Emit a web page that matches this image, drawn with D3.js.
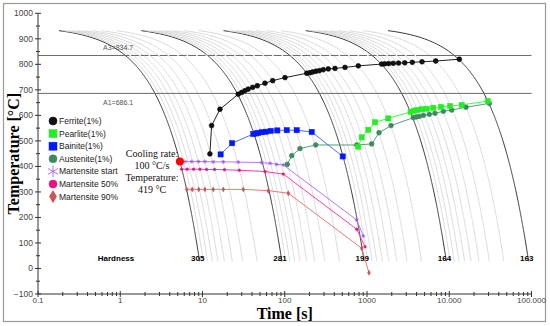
<!DOCTYPE html>
<html>
<head>
<meta charset="utf-8">
<script src="https://cdn.jsdelivr.net/npm/d3@7"></script>
<style>
  body { margin: 0; background: #fff; }
  text { font-family: Arial, "Liberation Sans", sans-serif; }
  text.serif { font-family: "Liberation Serif", "Times New Roman", serif; }
</style>
</head>
<body>
<svg width="550" height="326"></svg>
<script>
// cooling curves (°C/s), the dark ones carry the hardness label
const coolingRates = [100, 90, 80, 70, 60, 50, 40, 30, 20,
  10, 9, 8, 7, 6, 5, 4, 3, 2,
  1, 0.9, 0.8, 0.7, 0.6, 0.5, 0.4, 0.3, 0.2,
  0.1, 0.09, 0.08, 0.07, 0.06, 0.05, 0.04, 0.03, 0.02,
  0.01]
const markedRates = [100, 10, 1, 0.1, 0.01]
const hardness = ['305', '281', '199', '164', '163']
const startTemp = 950, curveTop = 932, curveBottom = 25

const A3 = 834.7, A1 = 686.1

const ferriteTime = [12.3, 12.9, 16.3, 27.2, 30.0, 32.9, 36.0, 40.8, 46.4, 57.5, 71.3, 100.7, 185, 203, 219, 240, 263, 294, 338, 408, 540, 784, 1509, 1644, 1838, 2086, 2417, 2880, 3550, 4667, 6850, 13250]
const ferriteTemp = [449, 560, 624, 683, 690, 697, 703, 710, 716, 726, 736, 748, 765, 767, 770, 773, 775, 779, 782, 784, 788, 794, 801, 802, 803, 804, 805, 806, 808, 810, 813, 820]

const pearliteTime = [783, 863, 1038, 1251, 1815, 3396, 3724, 4092, 4626, 5318, 6397, 7937, 10218, 14170, 29380]
const pearliteTemp = [477, 514, 543, 573, 588, 614, 618, 621, 624, 626, 630, 633, 637, 641, 656]

const bainiteTime = [16.6, 22.9, 41.5, 44.7, 47.6, 52.4, 59.2, 67.5, 81.2, 105.7, 139.7, 212.6, 507]
const bainiteTemp = [447, 491, 527, 529, 531, 534, 536, 539, 541, 542, 542, 535, 439]

const austeniteTime = [107.4, 121.6, 153, 238, 750, 1140, 1400, 1959, 3656, 3981, 4327, 4842, 5719, 6708, 8472, 10720, 15990, 30690]
const austeniteTemp = [408, 442, 470, 484, 484, 488, 532, 560, 591, 594, 596, 600, 604, 608, 616, 621, 632, 647]

const msTime = [5.23, 6.12, 7.39, 8.90, 10.7, 13.5, 17.9, 27.2, 52.4, 66.2, 79.8, 96.0, 750, 902]
const msTemp = [419, 419, 419, 419, 419, 418, 418, 417, 415, 412, 408, 406, 190, 127]

const m50Time = [5.58, 6.5, 7.8, 9.3, 11.2, 14, 18.5, 28, 57.5, 96, 750, 946]
const m50Temp = [389, 389, 389, 389, 388, 388, 387, 385, 380, 370, 154, 85]

const m90Time = [6.43, 7.5, 9.0, 10.7, 13.5, 17.9, 31.3, 63.1, 110.4, 863, 1057]
const m90Temp = [310, 310, 310, 310, 310, 310, 310, 305, 295, 79, -17]

const picked = { rate: 100, temp: 419 }

const xTicks = [0.1, 1, 10, 100, 1000, 10000, 100000]
const xTickLabels = ['0.1', '1', '10', '100', '1000', '10.000', '100.000']
const yTicks = d3.range(-100, 1001, 100)

const svg = d3.select('svg')

const x = d3.scaleLog().domain([0.1, 100000]).range([38, 531.5])
const y = d3.scaleLinear().domain([-100, 1000]).range([294, 13.3])

svg.append('rect')
  .attr('x', 3.5).attr('y', 3.5).attr('width', 542).attr('height', 318)
  .attr('fill', 'none').attr('stroke', '#9a9a9a').attr('stroke-width', 1.2)

// cooling curves
const curveLine = d3.line().x(d => x(d[0])).y(d => y(d[1]))
const temps = d3.range(curveTop, curveBottom - 1, -4)
const curves = svg.append('g')
coolingRates.forEach(r => {
  const dark = markedRates.includes(r)
  curves.append('path')
    .datum(temps.map(T => [(startTemp - T) / r, T]))
    .attr('d', curveLine)
    .attr('fill', 'none')
    .attr('stroke', dark ? '#3a3a3a' : '#d2d2d2')
    .attr('stroke-width', dark ? 1 : 0.8)
})

// A3 / A1
const crit = svg.append('g')
;[A3, A1].forEach(v => {
  crit.append('line')
    .attr('x1', x(0.1)).attr('x2', x(100000))
    .attr('y1', y(v)).attr('y2', y(v))
    .attr('stroke', '#6a6a6a').attr('stroke-width', 1)
})
crit.append('line')
  .attr('x1', x(1.3)).attr('x2', x(4000))
  .attr('y1', y(A3)).attr('y2', y(A3))
  .attr('stroke', '#fff').attr('stroke-width', 1.4)
  .attr('stroke-dasharray', '1.5,8')
crit.append('text').attr('x', 103).attr('y', y(A3) - 5)
  .attr('font-size', 7).attr('fill', '#555').text('A3=' + A3)
crit.append('text').attr('x', 103).attr('y', y(A1) + 12)
  .attr('font-size', 7).attr('fill', '#555').text('A1=' + A1)

// axes
const xAxis = svg.append('g').attr('transform', `translate(0,${y(-100)})`)
xAxis.append('line').attr('x1', x(0.1)).attr('x2', x(100000)).attr('stroke', '#333')
const xMinor = []
xTicks.slice(0, -1).forEach(d => d3.range(2, 10).forEach(k => xMinor.push(d * k)))
xAxis.selectAll('.xmin').data(xMinor).join('line')
  .attr('x1', d => x(d)).attr('x2', d => x(d)).attr('y1', -2).attr('y2', 2)
  .attr('stroke', '#333')
xAxis.selectAll('.xmaj').data(xTicks).join('line')
  .attr('x1', d => x(d)).attr('x2', d => x(d)).attr('y1', -3).attr('y2', 3)
  .attr('stroke', '#333')
xAxis.selectAll('.xlab').data(xTicks).join('text')
  .attr('x', d => x(d)).attr('y', 9).attr('text-anchor', 'middle')
  .attr('font-size', 8).attr('fill', '#444')
  .text((d, i) => xTickLabels[i])

const yAxis = svg.append('g').attr('transform', `translate(${x(0.1)},0)`)
yAxis.append('line').attr('y1', y(-100)).attr('y2', y(1000)).attr('stroke', '#333')
yAxis.selectAll('.ymin').data(d3.range(-50, 1000, 100)).join('line')
  .attr('y1', d => y(d)).attr('y2', d => y(d)).attr('x1', -2).attr('x2', 2)
  .attr('stroke', '#333')
yAxis.selectAll('.ymaj').data(yTicks).join('line')
  .attr('y1', d => y(d)).attr('y2', d => y(d)).attr('x1', -3).attr('x2', 3)
  .attr('stroke', '#333')
yAxis.selectAll('.ylab').data(yTicks).join('text')
  .attr('x', -5).attr('y', d => y(d) + 3).attr('text-anchor', 'end')
  .attr('font-size', 8.5).attr('fill', '#444')
  .text(d => d === -100 ? '\u2212100' : d)

svg.append('text').attr('class', 'serif')
  .attr('transform', `translate(19,${(y(-100) + y(1000)) / 2}) rotate(-90)`)
  .attr('text-anchor', 'middle')
  .attr('font-weight', 'bold').attr('font-size', 16)
  .text('Temperature [°C]')
svg.append('text').attr('class', 'serif')
  .attr('x', (x(0.1) + x(100000)) / 2).attr('y', 319)
  .attr('text-anchor', 'middle')
  .attr('font-weight', 'bold').attr('font-size', 16)
  .text('Time [s]')

// hardness labels at the end of the dark curves
svg.append('text').attr('x', 116).attr('y', y(curveBottom) - 1)
  .attr('text-anchor', 'middle').attr('font-size', 8).attr('font-weight', 'bold')
  .text('Hardness')
svg.selectAll('.hv').data(markedRates).join('text')
  .attr('x', d => x((startTemp - curveBottom) / d) - 2).attr('y', y(curveBottom) - 1)
  .attr('text-anchor', 'middle').attr('font-size', 8).attr('font-weight', 'bold')
  .text((d, i) => hardness[i])

// series
const zip = (t, T) => t.map((d, i) => [d, T[i]])
const seriesLine = d3.line().x(d => x(d[0])).y(d => y(d[1]))
const series = [
  { name: 'Martensite 90%', pts: zip(m90Time, m90Temp), line: '#e37a7a', fill: '#cc5555', shape: 'diamond', size: 1.6 },
  { name: 'Martensite 50%', pts: zip(m50Time, m50Temp), line: '#ff3fa8', fill: '#e8137f', shape: 'circle', size: 1.3 },
  { name: 'Martensite start', pts: zip(msTime, msTemp), line: '#b377ff', fill: '#9b4dff', shape: 'star', size: 1.3 },
  { name: 'Austenite(1%)', pts: zip(austeniteTime, austeniteTemp), line: '#5a9e78', fill: '#3d8a5f', shape: 'circle', size: 2.4 },
  { name: 'Bainite(1%)', pts: zip(bainiteTime, bainiteTemp), line: '#4a6cff', fill: '#0018ff', shape: 'square', size: 2.6 },
  { name: 'Pearlite(1%)', pts: zip(pearliteTime, pearliteTemp), line: '#3dff3d', fill: '#22ee22', shape: 'square', size: 2.6 },
  { name: 'Ferrite(1%)', pts: zip(ferriteTime, ferriteTemp), line: '#222', fill: '#111', shape: 'circle', size: 2.4 }
]

const drawMarker = (g, shape, cx, cy, s, fill, stroke) => {
  if (shape === 'circle') {
    g.append('circle').attr('cx', cx).attr('cy', cy).attr('r', s)
      .attr('fill', fill).attr('stroke', stroke).attr('stroke-width', 0.6)
  } else if (shape === 'square') {
    g.append('rect').attr('x', cx - s).attr('y', cy - s).attr('width', 2 * s).attr('height', 2 * s)
      .attr('fill', fill).attr('stroke', stroke).attr('stroke-width', 0.5)
  } else if (shape === 'diamond') {
    g.append('path').attr('d', d3.symbol(d3.symbolDiamond, s * s * 4)()).attr('transform', `translate(${cx},${cy})`)
      .attr('fill', fill)
  } else {
    g.append('path').attr('d', d3.symbol(d3.symbolAsterisk, s * s * 6)()).attr('transform', `translate(${cx},${cy})`)
      .attr('fill', 'none').attr('stroke', fill).attr('stroke-width', 0.8)
  }
}

series.forEach(s => {
  const g = svg.append('g')
  g.append('path').datum(s.pts).attr('d', seriesLine)
    .attr('fill', 'none').attr('stroke', s.line).attr('stroke-width', 1)
  s.pts.forEach(p => drawMarker(g, s.shape, x(p[0]), y(p[1]), s.size, s.fill, s.name === 'Ferrite(1%)' ? '#000' : s.fill))
})

// picked point
svg.append('circle')
  .attr('cx', x((startTemp - picked.temp) / picked.rate)).attr('cy', y(picked.temp))
  .attr('r', 4).attr('fill', '#ff0000')

const note = svg.append('g')
;[['Cooling rate:', 157], [picked.rate + ' °C/s', 169], ['Temperature:', 181], [picked.temp + ' °C', 193]]
  .forEach(([t, yy]) => note.append('text').attr('class', 'serif')
    .attr('x', 152).attr('y', yy).attr('font-size', 10)
    .attr('text-anchor', 'middle').attr('fill', '#111').text(t))

// legend
const legendOrder = ['Ferrite(1%)', 'Pearlite(1%)', 'Bainite(1%)', 'Austenite(1%)', 'Martensite start', 'Martensite 50%', 'Martensite 90%']
const legendSize = { circle: 4, square: 4, star: 4, diamond: 3.6 }
const legend = svg.append('g')
legendOrder.forEach((name, i) => {
  const s = series.find(d => d.name === name)
  const cy = 121 + i * 12.6
  drawMarker(legend, s.shape, 53, cy, legendSize[s.shape], s.fill, s.fill)
  legend.append('text').attr('x', 59).attr('y', cy + 3)
    .attr('font-size', 8.5).attr('fill', '#222').text(name)
})
</script>
</body>
</html>
